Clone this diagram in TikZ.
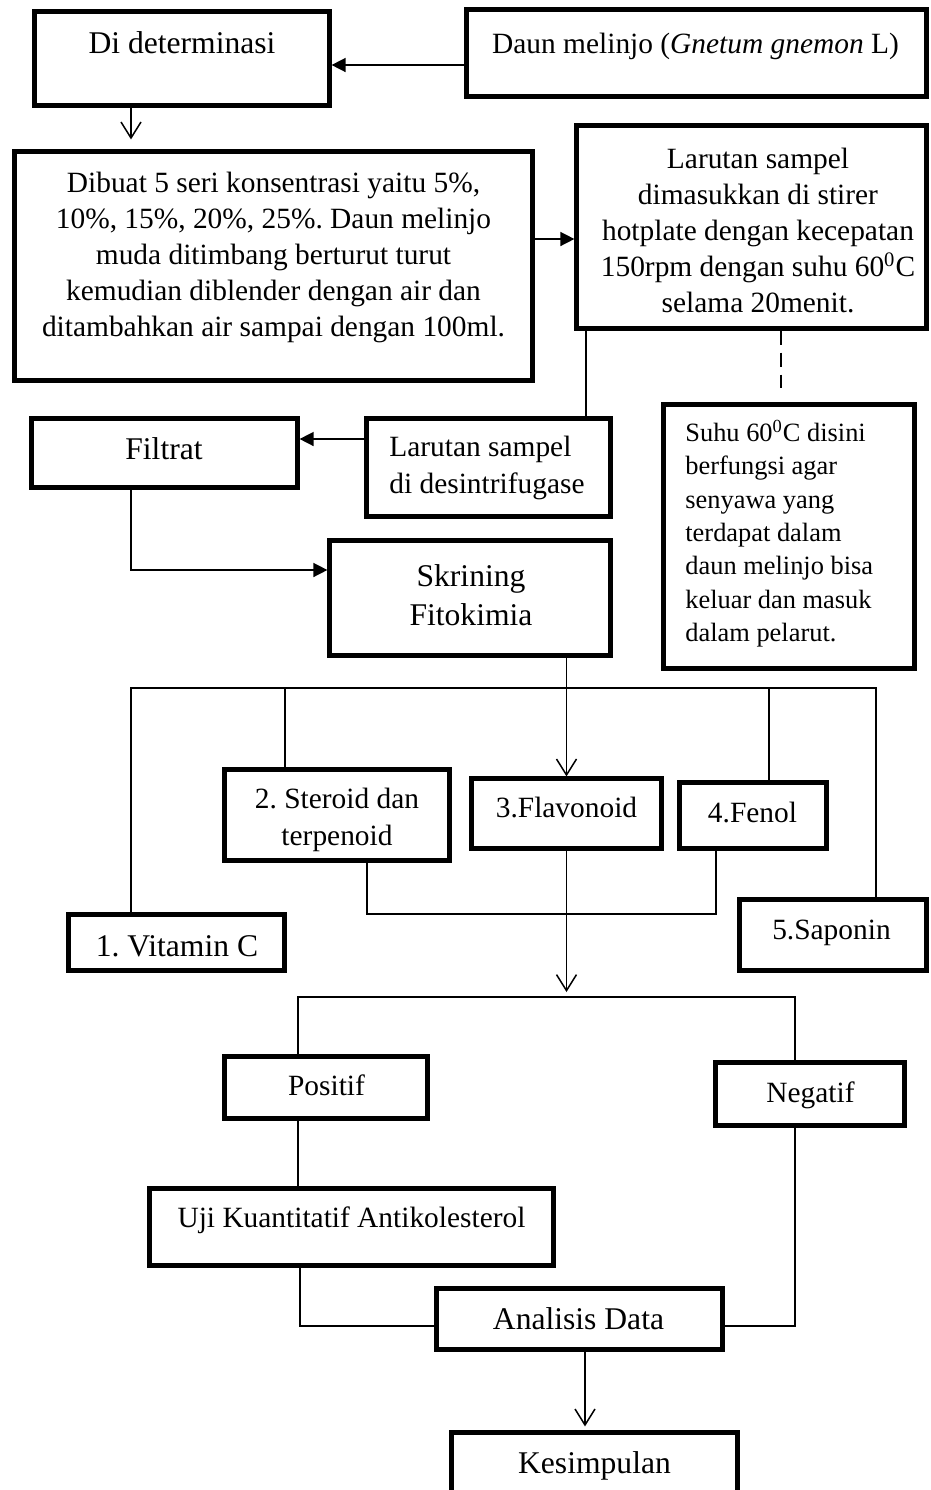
\documentclass[tikz,border=0pt]{standalone}
\usepackage{fontspec}
\setmainfont{Liberation Serif}
\usetikzlibrary{arrows.meta,calc}
\frenchspacing
\begin{document}
\begin{tikzpicture}[x=0.5pt,y=-0.5pt,
  box/.style={draw, line width=2.1pt, inner sep=0pt},
  conn/.style={line width=0.75pt},
  farrow/.style={conn, -{Triangle[length=7pt,width=7pt]}},
  oarrow/.style={conn, -{Straight Barb[length=8pt,width=10pt]}},
  big/.style={font=\fontsize{15.8}{19.5}\selectfont},
  txt/.style={font=\fontsize{14.7}{18.1}\selectfont},
  sml/.style={font=\fontsize{13.2}{16.67}\selectfont},
  lbl/.style={inner sep=0pt}]
\useasboundingbox (0,0) rectangle (931,1490);
\clip (0,0) rectangle (931,1490);

% boxes
\node[box, minimum width=147.5pt, minimum height=47pt]  (det)  at (182,58.5) {};
\node[box, minimum width=230pt,   minimum height=43.5pt](daun) at (696.5,53) {};
\node[box, minimum width=259pt,   minimum height=114.5pt](dibuat) at (273.5,266) {};
\node[box, minimum width=175pt,   minimum height=101.5pt](lar) at (751.5,227) {};
\node[box, minimum width=133pt,   minimum height=34.5pt](filtrat) at (164.5,453) {};
\node[box, minimum width=122pt,   minimum height=49pt]  (desint) at (488.5,467.5) {};
\node[box, minimum width=125.5pt, minimum height=132pt] (suhu) at (789,536.5) {};
\node[box, minimum width=140.5pt, minimum height=57.5pt](skr) at (470,598) {};
\node[box, minimum width=112.5pt, minimum height=45.5pt](ster) at (337,815) {};
\node[box, minimum width=95pt,    minimum height=35pt]  (flav) at (566.5,813.5) {};
\node[box, minimum width=73.5pt,  minimum height=33pt]  (fenol) at (753,815.5) {};
\node[box, minimum width=108pt,   minimum height=28pt]  (vitc) at (176.5,942.5) {};
\node[box, minimum width=93.5pt,  minimum height=35.5pt](sapo) at (833,935) {};
\node[box, minimum width=101.5pt, minimum height=31pt]  (pos) at (326,1087.5) {};
\node[box, minimum width=94.5pt,  minimum height=31.5pt](neg) at (810,1094) {};
\node[box, minimum width=202pt,   minimum height=38.5pt](uji) at (351.5,1227) {};
\node[box, minimum width=143pt,   minimum height=30.5pt](ana) at (579.5,1319) {};
\node[box, minimum width=143pt,   minimum height=43pt]  (kes) at (594.5,1475.5) {};

% texts
\node[lbl,big,anchor=base] (tdet) at (182,53) {Di determinasi};
\node[lbl,txt,anchor=base] (tdaun) at (695.5,53) {Daun melinjo (\textit{Gnetum gnemon} L)};
\node[lbl,txt,align=center] (tdib) at (273.5,257.5) {Dibuat 5 seri konsentrasi yaitu 5\%,\\10\%, 15\%, 20\%, 25\%. Daun melinjo\\muda ditimbang berturut turut\\kemudian diblender dengan air dan\\ditambahkan air sampai dengan 100ml.};
\node[lbl,txt,align=center] (tlar) at (758,230.5) {Larutan sampel\\dimasukkan di stirer\\hotplate dengan kecepatan\\150rpm dengan suhu 60\textsuperscript{0}C\\selama 20menit.};
\node[lbl,big,anchor=base] (tfil) at (164,459) {Filtrat};
\node[lbl,txt,align=left,anchor=west] (tdes) at (389,468) {Larutan sampel\\di desintrifugase};
\node[lbl,sml,align=left,anchor=west] (tsuhu) at (685,533.7) {Suhu 60\textsuperscript{0}C disini\\berfungsi agar\\senyawa yang\\terdapat dalam\\daun melinjo bisa\\keluar dan masuk\\dalam pelarut.};
\node[lbl,big,align=center] (tskr) at (471,595) {Skrining\\Fitokimia};
\node[lbl,txt,align=center] (tste) at (337,820) {2. Steroid dan\\terpenoid};
\node[lbl,txt,anchor=base] (tfla) at (566.5,817) {3.Flavonoid};
\node[lbl,txt,anchor=base] (tfen) at (752.5,822) {4.Fenol};
\node[lbl,big,anchor=base] (tvit) at (177,956) {1. Vitamin C};
\node[lbl,txt,anchor=base] (tsap) at (831.5,939) {5.Saponin};
\node[lbl,txt,anchor=base] (tpos) at (326.5,1095) {Positif};
\node[lbl,txt,anchor=base] (tneg) at (810.5,1102) {Negatif};
\node[lbl,txt,anchor=base] (tuji) at (351.5,1227) {Uji Kuantitatif Antikolesterol};
\node[lbl,big,anchor=base] (tana) at (578.5,1329) {Analisis Data};
\node[lbl,big,anchor=base] (tkes) at (594.5,1473) {Kesimpulan};

% helper coordinates
\coordinate (ya) at (0,65);
\coordinate (xa) at (131,0);
\coordinate (yb) at (0,239);
\coordinate (xc) at (586,0);
\coordinate (xd) at (781,0);
\coordinate (ye) at (0,439);
\coordinate (yf) at (0,570);
\coordinate (h1) at (131,688);
\coordinate (h2) at (876,688);
\coordinate (hs) at (285,688);
\coordinate (hf) at (769,688);
\coordinate (b1) at (367,914);
\coordinate (b2) at (716,914);
\coordinate (split) at (566.5,997);
\coordinate (pL) at (298,997);
\coordinate (pR) at (795,997);
\coordinate (u1) at (300,1326);
\coordinate (xk) at (585,0);

% connectors
\draw[farrow] (daun.west |- ya) -- (det.east |- ya);
\draw[oarrow, shorten >=5pt] (det.south -| xa) -- (dibuat.north -| xa);
\draw[farrow] (dibuat.east |- yb) -- (lar.west |- yb);
\draw[conn] (lar.south -| xc) -- (desint.north -| xc);
\draw[conn, dash pattern=on 7pt off 4pt, shorten >=7pt] (lar.south -| xd) -- (suhu.north -| xd);
\draw[farrow] (desint.west |- ye) -- (filtrat.east |- ye);
\draw[farrow] (filtrat.south -| xa) |- (skr.west |- yf);
\draw[oarrow] (skr.south -| flav.north) -- (flav.north);
\draw[conn] (vitc.north -| h1) -- (h1) -- (h2) -- (sapo.north -| h2);
\draw[conn] (hs) -- (ster.north -| hs);
\draw[conn] (hf) -- (fenol.north -| hf);
\draw[conn] (ster.south -| b1) -- (b1) -- (b2) -- (fenol.south -| b2);
\draw[oarrow, shorten >=2.5pt] (flav.south) -- (split);
\draw[conn] (pos.north -| pL) -- (pL) -- (pR) -- (neg.north -| pR);
\draw[conn] (pos.south -| pL) -- (uji.north -| pL);
\draw[conn] (uji.south -| u1) |- (ana.west |- u1);
\draw[conn] (neg.south -| pR) |- (ana.east |- u1);
\draw[oarrow, shorten >=2pt] (ana.south -| xk) -- (kes.north -| xk);
\end{tikzpicture}
\end{document}
